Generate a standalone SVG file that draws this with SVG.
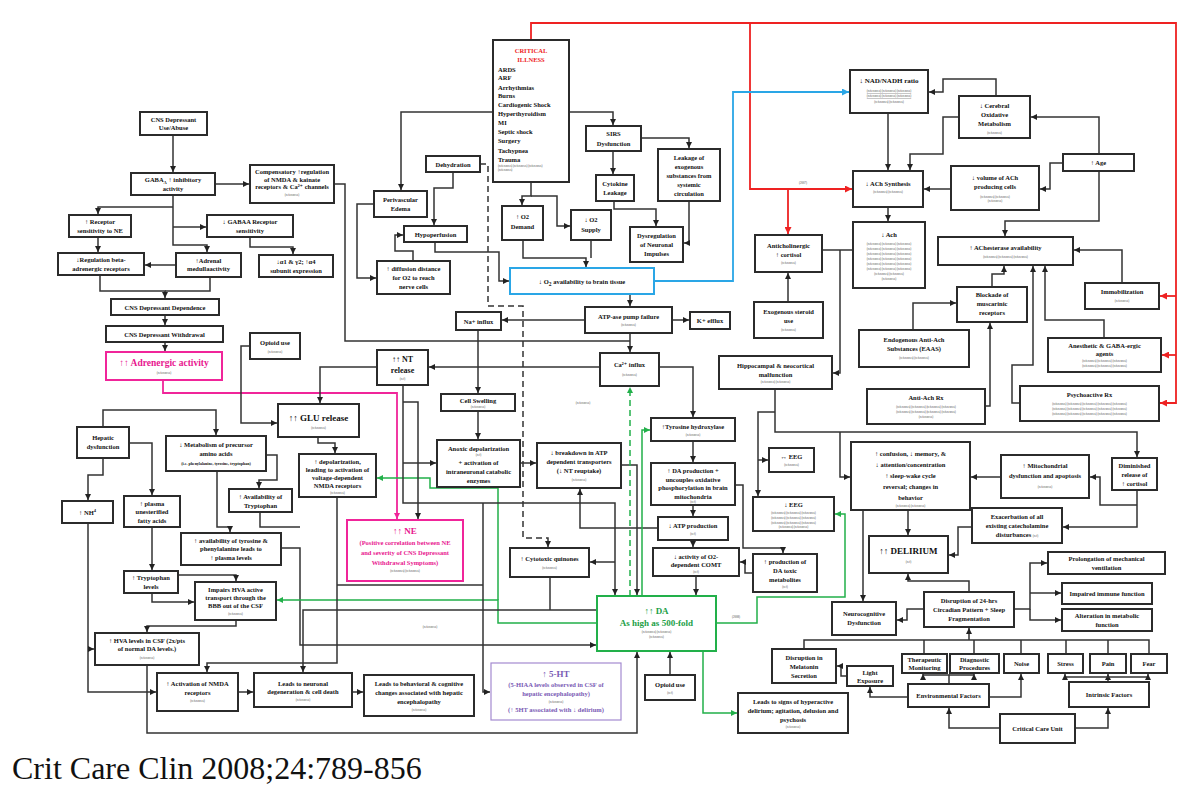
<svg xmlns="http://www.w3.org/2000/svg" width="1200" height="792" viewBox="0 0 1200 792">
<defs>
<marker id="a" markerUnits="userSpaceOnUse" markerWidth="6" markerHeight="6" refX="6" refY="3" orient="auto"><path d="M0,0 L6,3 L0,6 z" fill="#222"/></marker>
<marker id="ar" markerUnits="userSpaceOnUse" markerWidth="7" markerHeight="7" refX="7" refY="3.5" orient="auto"><path d="M0,0 L7,3.5 L0,7 z" fill="#ee2222"/></marker>
<marker id="ab" markerUnits="userSpaceOnUse" markerWidth="7" markerHeight="7" refX="7" refY="3.5" orient="auto"><path d="M0,0 L7,3.5 L0,7 z" fill="#2aa6e6"/></marker>
<marker id="ag" markerUnits="userSpaceOnUse" markerWidth="6" markerHeight="6" refX="6" refY="3" orient="auto"><path d="M0,0 L6,3 L0,6 z" fill="#22b04a"/></marker>
<marker id="am" markerUnits="userSpaceOnUse" markerWidth="6" markerHeight="6" refX="6" refY="3" orient="auto"><path d="M0,0 L6,3 L0,6 z" fill="#f0259a"/></marker>
</defs>
<style>
.b{fill:#fff;stroke:#2b2b2b;stroke-width:2}
.t{font-family:"Liberation Serif","DejaVu Serif",serif;font-size:6.5px;font-weight:bold;text-anchor:middle;fill:#111}
.l{text-anchor:start}
.r{font-size:3px;font-weight:normal;fill:#444}
.c{fill:none;stroke:#333;stroke-width:1.5;marker-end:url(#a)}
.n{fill:none;stroke:#333;stroke-width:1.5}
.cr{fill:none;stroke:#ee2222;stroke-width:1.8;marker-end:url(#ar)}
.cb{fill:none;stroke:#2aa6e6;stroke-width:1.8;marker-end:url(#ab)}
.cg{fill:none;stroke:#22b04a;stroke-width:1.5;marker-end:url(#ag)}
.cm{fill:none;stroke:#f0259a;stroke-width:1.8;marker-end:url(#am)}
.d{fill:none;stroke:#333;stroke-width:1.5;stroke-dasharray:6 4}
</style>
<rect width="1200" height="792" fill="#fff"/>

<g id="connectors">
<path class="c" d="M173,135 V172"/>
<path class="c" d="M215,184 H249"/>
<path class="c" d="M173,195 V245 H207 V252"/>
<path class="c" d="M173,207 H98 V214"/>
<path class="c" d="M173,227 H206"/>
<path class="c" d="M250,237 V247 H293 V254"/>
<path class="c" d="M98,237 V252"/>
<path class="c" d="M176,265 H145"/>
<path class="c" d="M100,275 V291 H165 V298"/>
<path class="n" d="M210,277 V291 H165"/>
<path class="c" d="M165,315 V325"/>
<path class="c" d="M165,342 V351"/>
<path class="cm" d="M163,380 V393 H397 V519"/>
<path class="c" d="M250,346 H241 V423 H277"/>
<path class="c" d="M103,427 V410 H216 V435"/>
<path class="c" d="M129,443 H152 V495"/>
<path class="c" d="M103,458 V475 H88 V500"/>
<path class="c" d="M266,455 H277 V480 H259 V488"/>
<path class="c" d="M217,471 V527 H230 V532"/>
<path class="n" d="M260,512 V527 H300"/>
<path class="c" d="M281,548 H300 V645 H596"/>
<path class="c" d="M152,527 V570"/>
<path class="c" d="M152,593 V602 H194"/>
<path class="c" d="M178,575 H236 V581"/>
<path class="c" d="M236,620 V626 H147 V632"/>
<path class="c" d="M88,523 V692 H156"/>
<path class="c" d="M88,649 H94"/>
<path class="c" d="M147,665 V733 H637 V652"/>
<path class="c" d="M238,692 H253"/>
<path class="c" d="M352,692 H363"/>
<path class="cg" d="M597,623 H498 V600 H277"/>
<path class="cg" d="M498,600 V488 H430 V478 H377"/>
<path class="cr" d="M531,40 V23 H1176 V403 H1160"/>
<path class="cr" d="M1176,296 H1160"/>
<path class="cr" d="M1176,355 H1162"/>
<path class="cr" d="M750,23 V189 H852"/>
<path class="cr" d="M788,189 V234"/>
<path class="cb" d="M654,281 H733 V92 H849"/>
<path class="c" d="M493,112 H401 V190"/>
<path class="c" d="M569,112 H613 V125"/>
<path class="c" d="M531,182 V196 H522 V205"/>
<path class="c" d="M531,196 H557 V226 H570"/>
<path class="c" d="M523,240 V258 H586 V267"/>
<path class="n" d="M591,240 V258"/>
<path class="c" d="M613,151 V174"/>
<path class="c" d="M641,138 H689 V148"/>
<path class="c" d="M614,201 V209 H656 V226"/>
<path class="c" d="M689,201 V243 H684"/>
<path class="d" d="M480,164 H488 V306 H523 V538 H548 V544"/>
<path class="c" d="M548,542 V547"/>
<path class="c" d="M453,172 V188 H434 V225"/>
<path class="c" d="M435,242 V252 H499 V281 H509"/>
<path class="c" d="M413,261 V251 H395 V235 H403"/>
<path class="c" d="M374,204 H357 V278 H376"/>
<path class="n" d="M334,184 H345 V341 H630"/>
<path class="c" d="M630,294 V306"/>
<path class="c" d="M585,320 H502"/>
<path class="c" d="M672,320 H689"/>
<path class="c" d="M630,333 V352"/>
<path class="c" d="M478,330 V393"/>
<path class="c" d="M600,367 H429"/>
<path class="c" d="M377,367 H320 V403"/>
<path class="c" d="M478,411 V439"/>
<path class="c" d="M520,463 H536"/>
<path class="c" d="M318,437 V443 H335 V453"/>
<path class="c" d="M403,385 V503 H615 V595"/>
<path class="c" d="M403,402 H418 V519"/>
<path class="c" d="M403,463 H436"/>
<path class="c" d="M483,503 V692 H490"/>
<path class="c" d="M615,562 H590"/>
<path class="c" d="M622,465 H637 V595"/>
<path class="c" d="M658,528 H580 V489"/>
<path class="cg" d="M630,596 V387" stroke-dasharray="6 4"/>
<path class="cg" d="M642,596 V430 H650"/>
<path class="c" d="M659,367 H693 V417"/>
<path class="c" d="M693,441 V462"/>
<path class="c" d="M693,505 V516"/>
<path class="c" d="M693,540 V547"/>
<path class="c" d="M735,485 H743 V548 H783 V553"/>
<path class="c" d="M753,573 H745 V562 H740"/>
<path class="c" d="M696,576 V595"/>
<path class="n" d="M550,577 V610"/>
<path class="c" d="M596,610 H303 V672"/>
<path class="c" d="M337,497 V663 H207 V672"/>
<path class="n" d="M337,585 H483"/>
<path class="cg" d="M716,623 H757 V597 H845 V514 H835"/>
<path class="cg" d="M703,651 V713 H737"/>
<path class="c" d="M670,675 V652"/>
<path class="c" d="M888,113 V170"/>
<path class="c" d="M996,96 V79 H943 V92 H929"/>
<path class="c" d="M1099,154 V117 H1031"/>
<path class="c" d="M1063,163 H1050 V189 H1040"/>
<path class="c" d="M951,189 H924"/>
<path class="c" d="M1099,171 V221 H1005 V236"/>
<path class="c" d="M959,117 H943 V154 H910 V170"/>
<path class="c" d="M888,207 V221"/>
<path class="n" d="M822,250 H853"/>
<path class="c" d="M840,250 V373 H833"/>
<path class="c" d="M788,302 V273"/>
<path class="c" d="M992,287 V274 H1004 V266"/>
<path class="c" d="M1020,403 H1012 V365 H1033 V266"/>
<path class="c" d="M1104,338 V320 H1045 V266"/>
<path class="c" d="M1122,283 V250 H1074"/>
<path class="c" d="M913,330 V303 H956"/>
<path class="c" d="M985,406 H990 V323"/>
<path class="c" d="M775,389 V432 H1137 V457"/>
<path class="c" d="M840,432 V477 H850"/>
<path class="c" d="M775,412 H758 V496"/>
<path class="c" d="M758,460 H768"/>
<path class="c" d="M1137,490 V527 H1063"/>
<path class="c" d="M1137,505 H1100 V477 H1090"/>
<path class="c" d="M1001,477 H971"/>
<path class="c" d="M972,527 H958 V555 H949"/>
<path class="c" d="M908,510 V535"/>
<path class="c" d="M969,592 V581 H908 V574"/>
<path class="c" d="M863,510 V601"/>
<path class="c" d="M924,609 H907 V620 H897"/>
<path class="c" d="M1014,609 H1030 V563 H1047"/>
<path class="c" d="M1030,593 H1061"/>
<path class="c" d="M1030,609 V620 H1061"/>
<path class="c" d="M969,640 V628"/>
<path class="n" d="M804,649 V640 H1149 V654 M924,640 V654 M974,640 V654 M1021,640 V654 M1066,640 V654 M1108,640 V654"/>
<path class="c" d="M847,676 H841 V666 H837"/>
<path class="c" d="M908,697 H870 V687"/>
<path class="c" d="M949,684 V675 H923 V674"/>
<path class="c" d="M949,675 H974 V674"/>
<path class="c" d="M989,697 H1021 V674"/>
<path class="c" d="M1108,682 V674"/>
<path class="c" d="M1108,677 H1065 V674"/>
<path class="c" d="M1108,677 H1148 V674"/>
<path class="c" d="M1000,728 H949 V708"/>
<path class="c" d="M1075,728 H1108 V708"/>
<text class="t r" x="803" y="184">(2007)</text>
<text class="t r" x="430" y="628">(references)</text>
<text class="t r" x="583" y="404">(references)</text>
<text class="t r" x="736" y="618">(2008)</text>
</g>

<g id="n1"><rect class="b" x="140" y="112" width="67" height="23"/><text class="t"><tspan x="173.5" y="121.5">CNS Depressant</tspan><tspan x="173.5" y="130">Use/Abuse</tspan></text></g>
<g id="n2"><rect class="b" x="131" y="173" width="84" height="22"/><text class="t"><tspan x="173" y="182">GABA<tspan font-size="4.5" dy="1.5">A</tspan><tspan dy="-1.5"> ↑ inhibitory</tspan></tspan><tspan x="173" y="191">activity</tspan></text></g>
<g id="n3"><rect class="b" x="250" y="165" width="84" height="38"/><text class="t"><tspan x="292" y="174">Compensatory ↑regulation</tspan><tspan x="292" y="181.5">of NMDA &amp; kainate</tspan><tspan x="292" y="189">receptors &amp; Ca²⁺ channels</tspan><tspan class="r" x="292" y="196">(references)</tspan></text></g>
<g id="n4"><rect class="b" x="69" y="215" width="62" height="22"/><text class="t"><tspan x="100" y="224">↑ Receptor</tspan><tspan x="100" y="232.5">sensitivity to NE</tspan></text></g>
<g id="n5"><rect class="b" x="207" y="215" width="86" height="22"/><text class="t"><tspan x="250" y="224">↓ GABAA Receptor</tspan><tspan x="250" y="232.5">sensitivity</tspan></text></g>
<g id="n6"><rect class="b" x="58" y="253" width="86" height="22"/><text class="t"><tspan x="101" y="262">↓Regulation beta-</tspan><tspan x="101" y="270.5">adrenergic receptors</tspan></text></g>
<g id="n7"><rect class="b" x="176" y="253" width="65" height="24"/><text class="t"><tspan x="208.5" y="262.5">↑Adrenal</tspan><tspan x="208.5" y="271">medullaactivity</tspan></text></g>
<g id="n8"><rect class="b" x="259" y="255" width="74" height="22"/><text class="t"><tspan x="296" y="264">↓α1 &amp; γ2; ↑α4</tspan><tspan x="296" y="272.5">subunit expression</tspan></text></g>
<g id="n9"><rect class="b" x="111" y="299" width="108" height="16"/><text class="t" x="165" y="309.5" font-size="7">CNS Depressant Dependence</text></g>
<g id="n10"><rect class="b" x="106" y="326" width="117" height="16"/><text class="t" x="164.5" y="336.5" font-size="7">CNS Depressant Withdrawal</text></g>
<g id="n11"><rect x="106" y="352" width="116" height="28" fill="#fff" stroke="#f0259a" stroke-width="2"/><text class="t"><tspan x="164" y="366" font-size="9.5" fill="#e8178f">↑↑ Adrenergic activity</tspan><tspan class="r" x="164" y="374" fill="#e8178f">(references)</tspan></text></g>
<g id="n12"><rect class="b" x="250" y="333" width="50" height="26"/><text class="t"><tspan x="275" y="345">Opioid use</tspan><tspan class="r" x="275" y="353">(references)</tspan></text></g>
<g id="n13"><rect class="b" x="77" y="427" width="52" height="31"/><text class="t"><tspan x="103" y="439.5">Hepatic</tspan><tspan x="103" y="448.5">dysfunction</tspan></text></g>
<g id="n14"><rect class="b" x="166" y="436" width="100" height="35"/><text class="t"><tspan x="216" y="447">↓ Metabolism of precursor</tspan><tspan x="216" y="456">amino acids</tspan><tspan x="216" y="465" font-size="4">(i.e. phenylalanine, tyrosine, tryptophan)</tspan></text></g>
<g id="n15"><rect class="b" x="62" y="501" width="51" height="22"/><text class="t" x="87.5" y="514.5">↑ NH<tspan font-size="4.5" dy="-2.5">4</tspan></text></g>
<g id="n16"><rect class="b" x="124" y="496" width="56" height="31"/><text class="t"><tspan x="152" y="505.5">↑ plasma</tspan><tspan x="152" y="514">unesterified</tspan><tspan x="152" y="522.5">fatty acids</tspan></text></g>
<g id="n17"><rect class="b" x="229" y="489" width="63" height="23"/><text class="t"><tspan x="260.5" y="498.5">↑ Availability of</tspan><tspan x="260.5" y="507.5">Tryptophan</tspan></text></g>
<g id="n18"><rect class="b" x="181" y="533" width="100" height="32"/><text class="t"><tspan x="231" y="542.5">↑ availability of tyrosine &amp;</tspan><tspan x="231" y="551">phenylalanine leads to</tspan><tspan x="231" y="559.5">↑ plasma levels</tspan></text></g>
<g id="n19"><rect class="b" x="124" y="571" width="54" height="22"/><text class="t"><tspan x="151" y="580">↑ Tryptophan</tspan><tspan x="151" y="589">levels</tspan></text></g>
<g id="n20"><rect class="b" x="195" y="582" width="81" height="38"/><text class="t"><tspan x="235.5" y="591.5">Impairs HVA active</tspan><tspan x="235.5" y="599.5">transport through the</tspan><tspan x="235.5" y="607.5">BBB out of the CSF</tspan><tspan class="r" x="235.5" y="615">(references)</tspan></text></g>
<g id="n21"><rect class="b" x="95" y="633" width="104" height="32"/><text class="t"><tspan x="147" y="642.5">↑ HVA levels in CSF (2x/pts</tspan><tspan x="147" y="651">of normal DA levels.)</tspan><tspan class="r" x="147" y="659">(references)</tspan></text></g>
<g id="n22"><rect class="b" x="157" y="673" width="81" height="38"/><text class="t"><tspan x="197.5" y="686">↑ Activation of NMDA</tspan><tspan x="197.5" y="694.5">receptors</tspan><tspan class="r" x="197.5" y="702">(references)</tspan></text></g>
<g id="n23"><rect class="b" x="254" y="673" width="98" height="34"/><text class="t"><tspan x="303" y="685.5">Leads to neuronal</tspan><tspan x="303" y="694">degeneration &amp; cell death</tspan><tspan class="r" x="303" y="701">(references)</tspan></text></g>
<g id="n24"><rect class="b" x="364" y="675" width="110" height="41"/><text class="t"><tspan x="419" y="686">Leads to behavioral &amp; cognitive</tspan><tspan x="419" y="695">changes associated with hepatic</tspan><tspan x="419" y="704">encephalopathy</tspan><tspan class="r" x="419" y="711">(references)</tspan></text></g>
<g id="n25"><rect x="491" y="663" width="130" height="57" fill="#fff" stroke="#a48ad0" stroke-width="1.2"/><text class="t" font-weight="normal"><tspan x="556" y="677" font-size="9" fill="#7a5bb5">↑ 5-HT</tspan><tspan x="556" y="687" fill="#7a5bb5">(5-HIAA levels observed in CSF of</tspan><tspan x="556" y="696" fill="#7a5bb5">hepatic encephalopathy)</tspan><tspan class="r" x="556" y="702.5" fill="#7a5bb5">(references)</tspan><tspan x="556" y="712" fill="#7a5bb5">(↑ 5HT associated with ↓ delirium)</tspan></text></g>

<g id="n26"><rect class="b" x="493" y="40" width="76" height="142"/><text class="t"><tspan x="531" y="53" fill="#ee1c24">CRITICAL</tspan><tspan x="531" y="62" fill="#ee1c24">ILLNESS</tspan></text><text class="t l" font-size="7"><tspan x="498" y="72">ARDS</tspan><tspan x="498" y="80">ARF</tspan><tspan x="498" y="89.5">Arrhythmias</tspan><tspan x="498" y="98">Burns</tspan><tspan x="498" y="107">Cardiogenic Shock</tspan><tspan x="498" y="116">Hyperthyroidism</tspan><tspan x="498" y="124.5">MI</tspan><tspan x="498" y="134">Septic shock</tspan><tspan x="498" y="143">Surgery</tspan><tspan x="498" y="152.5">Tachypnea</tspan><tspan x="498" y="161.5">Trauma</tspan><tspan class="r" x="498" y="167">(references) (references) (references)</tspan><tspan class="r" x="498" y="171">(references)</tspan></text></g>
<g id="n27"><rect class="b" x="426" y="156" width="54" height="16"/><text class="t" x="453" y="166.5">Dehydration</text></g>
<g id="n28"><rect class="b" x="374" y="191" width="53" height="26"/><text class="t"><tspan x="400.5" y="202">Perivascular</tspan><tspan x="400.5" y="211">Edema</tspan></text></g>
<g id="n29"><rect class="b" x="404" y="226" width="63" height="16"/><text class="t" x="435.5" y="236.5">Hypoperfusion</text></g>
<g id="n30"><rect class="b" x="377" y="261" width="73" height="33"/><text class="t"><tspan x="413.5" y="271">↑ diffusion distance</tspan><tspan x="413.5" y="280">for O2 to reach</tspan><tspan x="413.5" y="289">nerve cells</tspan></text></g>
<g id="n31"><rect class="b" x="586" y="126" width="55" height="25"/><text class="t"><tspan x="613.5" y="136">SIRS</tspan><tspan x="613.5" y="145.5">Dysfunction</tspan></text></g>
<g id="n32"><rect class="b" x="502" y="206" width="41" height="34"/><text class="t"><tspan x="522.5" y="219">↑ O2</tspan><tspan x="522.5" y="229">Demand</tspan></text></g>
<g id="n33"><rect class="b" x="571" y="210" width="40" height="30"/><text class="t"><tspan x="591" y="222">↓ O2</tspan><tspan x="591" y="231.5">Supply</tspan></text></g>
<g id="n34"><rect class="b" x="596" y="175" width="38" height="26"/><text class="t"><tspan x="615" y="186">Cytokine</tspan><tspan x="615" y="195">Leakage</tspan></text></g>
<g id="n35"><rect class="b" x="658" y="149" width="62" height="52"/><text class="t"><tspan x="689" y="159.5">Leakage of</tspan><tspan x="689" y="168.5">exogenous</tspan><tspan x="689" y="177.5">substances from</tspan><tspan x="689" y="186.5">systemic</tspan><tspan x="689" y="195.5">circulation</tspan></text></g>
<g id="n36"><rect class="b" x="630" y="227" width="53" height="35"/><text class="t"><tspan x="656.5" y="238">Dysregulation</tspan><tspan x="656.5" y="247">of Neuronal</tspan><tspan x="656.5" y="256">Impulses</tspan></text></g>
<g id="n37"><rect x="510" y="268" width="144" height="26" fill="#fff" stroke="#2aa6e6" stroke-width="2"/><text class="t" x="582" y="284" font-size="8" fill="#3a55e0">↓ O<tspan font-size="5.5" dy="1.5">2</tspan><tspan dy="-1.5"> availability to brain tissue</tspan></text></g>
<g id="n38"><rect class="b" x="456" y="312" width="45" height="18"/><text class="t" x="478.5" y="323.5">Na+ influx</text></g>
<g id="n39"><rect class="b" x="585" y="307" width="87" height="26"/><text class="t"><tspan x="628.5" y="318.5">ATP-ase pump failure</tspan><tspan class="r" x="628.5" y="326">(references)</tspan></text></g>
<g id="n40"><rect class="b" x="690" y="312" width="40" height="17"/><text class="t" x="710" y="323">K+ efflux</text></g>
<g id="n41"><rect class="b" x="377" y="350" width="51" height="35"/><text class="t"><tspan x="402.5" y="362" font-size="8">↑↑ NT</tspan><tspan x="402.5" y="373" font-size="8">release</tspan><tspan class="r" x="402.5" y="380">(ref)</tspan></text></g>
<g id="n42"><rect class="b" x="441" y="394" width="74" height="17"/><text class="t"><tspan x="478" y="402.5">Cell Swelling</tspan><tspan class="r" x="478" y="408">(references)</tspan></text></g>
<g id="n43"><rect class="b" x="600" y="353" width="59" height="33"/><text class="t"><tspan x="629.5" y="367">Ca²⁺ influx</tspan><tspan class="r" x="629.5" y="376">(references)</tspan></text></g>
<g id="n44"><rect class="b" x="278" y="404" width="81" height="33"/><text class="t"><tspan x="318.5" y="421" font-size="9">↑↑ GLU release</tspan><tspan class="r" x="318.5" y="429">(references)</tspan></text></g>
<g id="n45"><rect class="b" x="299" y="454" width="77" height="43"/><text class="t"><tspan x="337.5" y="464">↑ depolarization,</tspan><tspan x="337.5" y="472">leading to activation of</tspan><tspan x="337.5" y="480">voltage-dependent</tspan><tspan x="337.5" y="488">NMDA receptors</tspan><tspan class="r" x="337.5" y="494">(references)</tspan></text></g>
<g id="n46"><rect class="b" x="437" y="440" width="83" height="47"/><text class="t"><tspan x="478.5" y="450.5">Anoxic depolarization</tspan><tspan class="r" x="478.5" y="456">(ref)</tspan><tspan x="478.5" y="465">+ activation of</tspan><tspan x="478.5" y="474">intraneuronal catabolic</tspan><tspan x="478.5" y="483">enzymes</tspan></text></g>
<g id="n47"><rect class="b" x="537" y="443" width="84" height="45"/><text class="t"><tspan x="579" y="455">↓ breakdown in ATP</tspan><tspan x="579" y="464">dependent transporters</tspan><tspan x="579" y="473">(↓ NT reuptake)</tspan><tspan class="r" x="579" y="481">(references)</tspan></text></g>
<g id="n48"><rect class="b" x="651" y="418" width="84" height="23"/><text class="t"><tspan x="693" y="429">↑Tyrosine hydroxylase</tspan><tspan class="r" x="693" y="436">(references)</tspan></text></g>
<g id="n49"><rect class="b" x="651" y="463" width="84" height="42"/><text class="t"><tspan x="693" y="473">↑ DA production +</tspan><tspan x="693" y="481.5">uncouples oxidative</tspan><tspan x="693" y="490">phosphorylation in brain</tspan><tspan x="693" y="498.5">mitochondria</tspan><tspan class="r" x="693" y="503">(ref)</tspan></text></g>
<g id="n50"><rect class="b" x="658" y="517" width="70" height="23"/><text class="t"><tspan x="693" y="528">↓ ATP production</tspan><tspan class="r" x="693" y="535">(ref)</tspan></text></g>
<g id="n51"><rect class="b" x="653" y="548" width="86" height="28"/><text class="t"><tspan x="696" y="558.5">↓ activity of O2-</tspan><tspan x="696" y="567">dependent COMT</tspan><tspan class="r" x="696" y="573">(ref)</tspan></text></g>
<g id="n52"><rect class="b" x="753" y="554" width="64" height="38"/><text class="t"><tspan x="785" y="564">↑ production of</tspan><tspan x="785" y="573">DA toxic</tspan><tspan x="785" y="582">metabolites</tspan><tspan class="r" x="785" y="588">(ref)</tspan></text></g>
<g id="n53"><rect class="b" x="510" y="548" width="79" height="29"/><text class="t"><tspan x="549.5" y="561">↑ Cytotoxic quinones</tspan><tspan class="r" x="549.5" y="569">(references)</tspan></text></g>
<g id="n54"><rect x="347" y="520" width="116" height="61" fill="#fff" stroke="#f0259a" stroke-width="2"/><text class="t" font-weight="normal"><tspan x="405" y="534" font-size="9" fill="#e8178f">↑↑ NE</tspan><tspan x="405" y="545" fill="#e8178f">(Positive correlation between NE</tspan><tspan x="405" y="555" fill="#e8178f">and severity of CNS Depressant</tspan><tspan x="405" y="565" fill="#e8178f">Withdrawal Symptoms)</tspan><tspan class="r" x="405" y="572" fill="#e8178f">(references) (references)</tspan></text></g>
<g id="n55"><rect x="597" y="596" width="119" height="55" fill="#fff" stroke="#22b04a" stroke-width="2"/><text class="t"><tspan x="656.5" y="614" font-size="9" fill="#22a046">↑↑ DA</tspan><tspan x="656.5" y="626" font-size="9" fill="#22a046">As high as 500-fold</tspan><tspan class="r" x="656.5" y="633" fill="#22a046">(references) (references)</tspan><tspan class="r" x="656.5" y="638" fill="#22a046">(references)</tspan></text></g>
<g id="n56"><rect class="b" x="645" y="675" width="50" height="25"/><text class="t"><tspan x="670" y="686.5">Opioid use</tspan><tspan class="r" x="670" y="694">(ref)</tspan></text></g>
<g id="n57"><rect class="b" x="738" y="693" width="110" height="40"/><text class="t"><tspan x="793" y="704">Leads to signs of hyperactive</tspan><tspan x="793" y="713">delirium; agitation, delusion and</tspan><tspan x="793" y="722">psychosis</tspan><tspan class="r" x="793" y="728">(references)</tspan></text></g>

<g id="n58"><rect class="b" x="850" y="70" width="78" height="43"/><text class="t"><tspan x="889" y="83" font-size="7">↓ NAD/NADH ratio</tspan><tspan class="r" x="889" y="92" text-decoration="underline">(references) (references) (references)</tspan><tspan class="r" x="889" y="97" text-decoration="underline">(references) (references) (references)</tspan><tspan class="r" x="889" y="103">(references) (references)</tspan></text></g>
<g id="n59"><rect class="b" x="959" y="96" width="71" height="42"/><text class="t"><tspan x="994.5" y="107.5">↓ Cerebral</tspan><tspan x="994.5" y="116.5">Oxidative</tspan><tspan x="994.5" y="125.5">Metabolism</tspan><tspan class="r" x="994.5" y="134">(references)</tspan></text></g>
<g id="n60"><rect class="b" x="1063" y="154" width="71" height="17"/><text class="t" x="1098.5" y="165">↑ Age</text></g>
<g id="n61"><rect class="b" x="951" y="166" width="88" height="44"/><text class="t"><tspan x="995" y="180">↓ volume of ACh</tspan><tspan x="995" y="189">producing cells</tspan><tspan class="r" x="995" y="198">(references) (references)</tspan><tspan class="r" x="995" y="202">(references)</tspan></text></g>
<g id="n62"><rect class="b" x="853" y="171" width="70" height="36"/><text class="t"><tspan x="888" y="186">↓ ACh Synthesis</tspan><tspan class="r" x="888" y="193">(references) (references)</tspan></text></g>
<g id="n63"><rect class="b" x="853" y="222" width="72" height="66"/><text class="t"><tspan x="889" y="237">↓ Ach</tspan><tspan class="r" x="889" y="245">(references) (references) (references)</tspan><tspan class="r" x="889" y="250">(references) (references) (references)</tspan><tspan class="r" x="889" y="255">(references) (references) (references)</tspan><tspan class="r" x="889" y="260">(references) (references) (references)</tspan><tspan class="r" x="889" y="265">(references) (references) (references)</tspan><tspan class="r" x="889" y="270">(references) (references) (references)</tspan><tspan class="r" x="889" y="275">(references) (references)</tspan><tspan class="r" x="889" y="280">(references)</tspan></text></g>
<g id="n64"><rect class="b" x="755" y="235" width="67" height="37"/><text class="t"><tspan x="788.5" y="248">Anticholinergic</tspan><tspan x="788.5" y="257">↑ cortisol</tspan><tspan class="r" x="788.5" y="264">(references)</tspan></text></g>
<g id="n65"><rect class="b" x="754" y="302" width="69" height="36"/><text class="t"><tspan x="788.5" y="314">Exogenous steroid</tspan><tspan x="788.5" y="323">use</tspan><tspan class="r" x="788.5" y="331">(references)</tspan></text></g>
<g id="n66"><rect class="b" x="938" y="237" width="135" height="28"/><text class="t"><tspan x="1005.5" y="250">↑ AChesterase availability</tspan><tspan class="r" x="1005.5" y="258">(references) (references) (references)</tspan></text></g>
<g id="n67"><rect class="b" x="957" y="287" width="70" height="35"/><text class="t"><tspan x="992" y="297">Blockade of</tspan><tspan x="992" y="306">muscarinic</tspan><tspan x="992" y="315">receptors</tspan></text></g>
<g id="n68"><rect class="b" x="1085" y="283" width="74" height="26"/><text class="t"><tspan x="1122" y="294">Immobilization</tspan><tspan class="r" x="1122" y="302">(references)</tspan></text></g>
<g id="n69"><rect class="b" x="859" y="330" width="110" height="37"/><text class="t"><tspan x="914" y="341.5">Endogenous Anti-Ach</tspan><tspan x="914" y="350.5">Substances (EAAS)</tspan><tspan class="r" x="914" y="359">(references) (references)</tspan></text></g>
<g id="n70"><rect class="b" x="1048" y="338" width="113" height="34"/><text class="t"><tspan x="1104.5" y="347.5">Anesthetic &amp; GABA-ergic</tspan><tspan x="1104.5" y="356">agents</tspan><tspan class="r" x="1104.5" y="362">(references) (references) (references)</tspan><tspan class="r" x="1104.5" y="367">(references) (references) (references)</tspan></text></g>
<g id="n71"><rect class="b" x="719" y="356" width="113" height="33"/><text class="t"><tspan x="775.5" y="368">Hippocampal &amp; neocortical</tspan><tspan x="775.5" y="377">malfunction</tspan><tspan class="r" x="775.5" y="383">(references) (references)</tspan></text></g>
<g id="n72"><rect class="b" x="867" y="389" width="118" height="35"/><text class="t"><tspan x="926" y="400">Anti-Ach Rx</tspan><tspan class="r" x="926" y="408">(references) (references) (references) (references)</tspan><tspan class="r" x="926" y="413">(references) (references) (references) (references)</tspan><tspan class="r" x="926" y="418">(references)</tspan></text></g>
<g id="n73"><rect class="b" x="1020" y="386" width="139" height="35"/><text class="t"><tspan x="1089.5" y="397">Psychoactive Rx</tspan><tspan class="r" x="1089.5" y="405">(references) (references) (references) (references) (references)</tspan><tspan class="r" x="1089.5" y="410">(references) (references) (references) (references) (references)</tspan><tspan class="r" x="1089.5" y="415">(references) (references) (references) (references) (references)</tspan></text></g>
<g id="n74"><rect class="b" x="769" y="448" width="45" height="24"/><text class="t"><tspan x="791.5" y="459">↔ EEG</tspan><tspan class="r" x="791.5" y="466">(references)</tspan></text></g>
<g id="n75"><rect class="b" x="753" y="497" width="81" height="34"/><text class="t"><tspan x="793.5" y="507">↓ EEG</tspan><tspan class="r" x="793.5" y="514">(references) (references) (references)</tspan><tspan class="r" x="793.5" y="519">(references) (references) (references)</tspan><tspan class="r" x="793.5" y="524">(references) (references) (references)</tspan><tspan class="r" x="793.5" y="528">(references) (references)</tspan></text></g>
<g id="n76"><rect class="b" x="851" y="442" width="119" height="68"/><text class="t" font-size="8.5"><tspan x="910.5" y="456">↑ confusion, ↓ memory, &amp;</tspan><tspan x="910.5" y="467">↓ attention/concentration</tspan><tspan x="910.5" y="478">↑ sleep-wake cycle</tspan><tspan x="910.5" y="489">reversal; changes in</tspan><tspan x="910.5" y="500">behavior</tspan><tspan class="r" x="910.5" y="506.5">(references) (references)</tspan></text></g>
<g id="n77"><rect class="b" x="1001" y="455" width="88" height="43"/><text class="t"><tspan x="1045" y="468">↑ Mitochondrial</tspan><tspan x="1045" y="478">dysfunction and apoptosis</tspan><tspan class="r" x="1045" y="488">(references)</tspan></text></g>
<g id="n78"><rect class="b" x="1112" y="458" width="45" height="32"/><text class="t"><tspan x="1134.5" y="467.5">Diminished</tspan><tspan x="1134.5" y="476.5">release of</tspan><tspan x="1134.5" y="485.5">↑ cortisol</tspan></text></g>
<g id="n79"><rect class="b" x="972" y="508" width="90" height="35"/><text class="t"><tspan x="1017" y="518.5">Exacerbation of all</tspan><tspan x="1017" y="527.5">existing catecholamine</tspan><tspan x="1017" y="536.5">disturbances <tspan class="r">(ref)</tspan></tspan></text></g>
<g id="n80"><rect class="b" x="869" y="536" width="79" height="37"/><text class="t"><tspan x="908.5" y="554" font-size="9">↑↑ DELIRIUM</tspan><tspan class="r" x="908.5" y="563">(ref)</tspan></text></g>
<g id="n81"><rect class="b" x="832" y="602" width="64" height="33"/><text class="t"><tspan x="864" y="615.5">Neurocognitive</tspan><tspan x="864" y="625">Dysfunction</tspan></text></g>
<g id="n82"><rect class="b" x="924" y="592" width="90" height="35"/><text class="t"><tspan x="969" y="602.5">Disruption of 24-hrs</tspan><tspan x="969" y="611.5">Circadian Pattern + Sleep</tspan><tspan x="969" y="620.5">Fragmentation</tspan></text></g>
<g id="n83"><rect class="b" x="1048" y="552" width="117" height="22"/><text class="t"><tspan x="1106.5" y="561">Prolongation of mechanical</tspan><tspan x="1106.5" y="570">ventilation</tspan></text></g>
<g id="n84"><rect class="b" x="1062" y="583" width="90" height="21"/><text class="t" x="1107" y="596">Impaired immune function</text></g>
<g id="n85"><rect class="b" x="1062" y="609" width="90" height="22"/><text class="t"><tspan x="1107" y="618">Alteration in metabolic</tspan><tspan x="1107" y="627">function</tspan></text></g>
<g id="n86"><rect class="b" x="772" y="649" width="64" height="34"/><text class="t"><tspan x="804" y="659.5">Disruption in</tspan><tspan x="804" y="668.5">Melatonin</tspan><tspan x="804" y="677.5">Secretion</tspan></text></g>
<g id="n87"><rect class="b" x="847" y="666" width="46" height="20"/><text class="t"><tspan x="870" y="674.5">Light</tspan><tspan x="870" y="682.5">Exposure</tspan></text></g>
<g id="n88"><rect class="b" x="902" y="654" width="45" height="19"/><text class="t"><tspan x="924.5" y="662">Therapeutic</tspan><tspan x="924.5" y="670">Monitoring</tspan></text></g>
<g id="n89"><rect class="b" x="950" y="654" width="49" height="19"/><text class="t"><tspan x="974.5" y="662">Diagnostic</tspan><tspan x="974.5" y="670">Procedures</tspan></text></g>
<g id="n90"><rect class="b" x="1004" y="654" width="35" height="19"/><text class="t" x="1021.5" y="666">Noise</text></g>
<g id="n91"><rect class="b" x="1048" y="654" width="35" height="19"/><text class="t" x="1065.5" y="666">Stress</text></g>
<g id="n92"><rect class="b" x="1090" y="654" width="36" height="19"/><text class="t" x="1108" y="666">Pain</text></g>
<g id="n93"><rect class="b" x="1131" y="654" width="36" height="19"/><text class="t" x="1149" y="666">Fear</text></g>
<g id="n94"><rect class="b" x="908" y="684" width="81" height="23"/><text class="t" x="948.5" y="698">Environmental Factors</text></g>
<g id="n95"><rect class="b" x="1069" y="682" width="80" height="25"/><text class="t" x="1109" y="697">Intrinsic Factors</text></g>
<g id="n96"><rect class="b" x="1000" y="714" width="75" height="29"/><text class="t" x="1037.5" y="731">Critical Care Unit</text></g>

<text x="12" y="779" font-family="Liberation Serif, Times New Roman, serif" font-size="32" fill="#111">Crit Care Clin 2008;24:789-856</text>
</svg>
